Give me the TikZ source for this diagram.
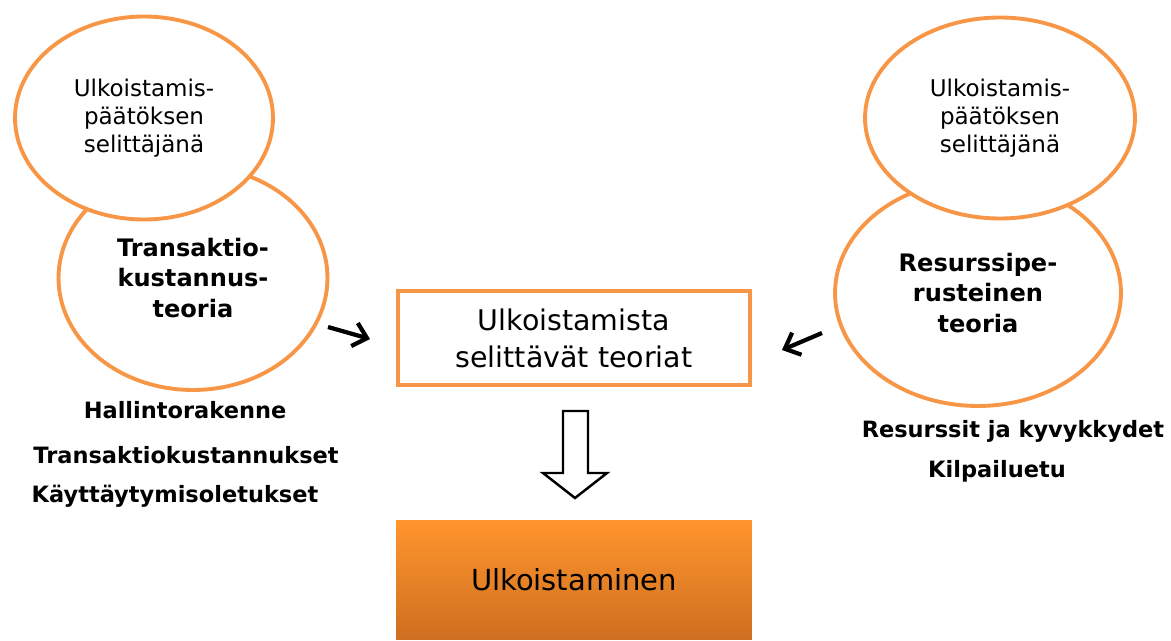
\documentclass[tikz,border=0pt]{standalone}
\usepackage{fontspec}
\setmainfont{DejaVu Sans}
\usetikzlibrary{positioning,shapes.geometric,arrows.meta}
\definecolor{offorange}{RGB}{247,150,70}
\definecolor{boxtop}{RGB}{255,149,45}
\definecolor{boxbottom}{RGB}{206,111,32}

\begin{document}
\begin{tikzpicture}[
  x=0.02cm, y=-0.02cm,
  bubble/.style={ellipse, draw=offorange, line width=2.2pt, fill=white, inner sep=0pt, align=center},
  rolebubble/.style={bubble, font=\fontsize{13.1}{15.9}\selectfont},
  theorybubble/.style={bubble, font=\fontsize{13.7}{17.1}\selectfont\bfseries},
  factor/.style={anchor=base, inner sep=0pt, font=\fontsize{12.8}{14}\selectfont\bfseries},
  pointer/.style={-{Straight Barb[length=2.6mm,width=4.8mm]}, line width=2.4pt}
]
  \useasboundingbox (0,0) rectangle (1171,640);

  % left side
  \node (ltheory) [theorybubble, minimum width=5.38cm, minimum height=4.48cm] at (193,278) {Transaktio-\\kustannus-\\teoria};
  \node (lrole) [rolebubble, minimum width=5.16cm, minimum height=4.06cm] at (144,118) {Ulkoistamis-\\päätöksen\\selittäjänä};

  \node (hallinto) [factor] at (185,418) {Hallintorakenne};
  \node (tkust) [factor] at (186,463) {Transaktiokustannukset};
  \node (kayttay) [factor] at (175,502) {Käyttäytymisoletukset};

  % right side
  \node (rtheory) [theorybubble, minimum width=5.72cm, minimum height=4.52cm] at (978,293) {Resurssipe-\\rusteinen\\teoria};
  \node (rrole) [rolebubble, minimum width=5.4cm, minimum height=4.02cm] at (1000,118) {Ulkoistamis-\\päätöksen\\selittäjänä};

  \node (resurssit) [factor] at (1013,437) {Resurssit ja kyvykkydet};
  \node (kilpailu) [factor] at (997,477) {Kilpailuetu};

  % middle
  \node (theories) [draw=offorange, line width=2pt, minimum width=7.04cm, minimum height=1.88cm,
    align=center, font=\fontsize{16.2}{21}\selectfont] at (574,338) {Ulkoistamista\\selittävät teoriat};
  \node (outsourcing) [minimum width=7.12cm, minimum height=2.4cm, top color=boxtop, bottom color=boxbottom,
    font=\fontsize{16.5}{20}\selectfont] at (574,580) {Ulkoistaminen};

  \draw [line width=1.4pt, fill=white] (563,411) -- (588,411) -- (588,473) -- (607,473)
    -- (575,498) -- (543,473) -- (563,473) -- cycle;

  \coordinate (lfrom) at (328,327);
  \coordinate (lto) at (370,339);
  \coordinate (rfrom) at (822,333);
  \coordinate (rto) at (782,350);
  \draw [pointer] (lfrom) -- (lto);
  \draw [pointer] (rfrom) -- (rto);
\end{tikzpicture}
\end{document}
